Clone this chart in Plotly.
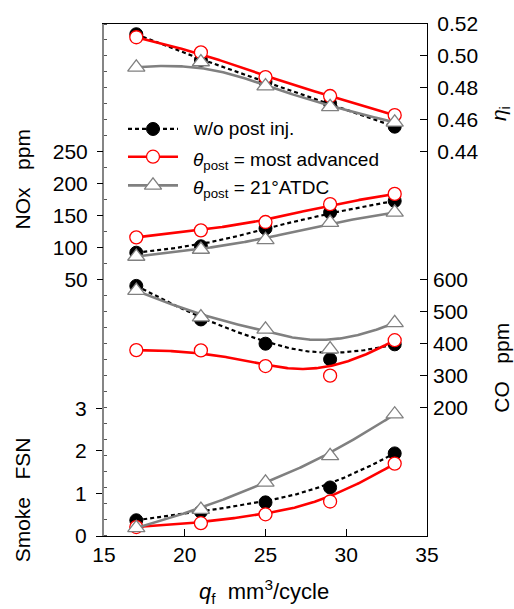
import numpy as np
import plotly.graph_objects as go

# Fuel injection quantity (mm^3/cycle)
q_f = [17, 21, 25, 29, 33]

# Indicated thermal efficiency
eta_wo = [0.5136, 0.4975, 0.4838, 0.4702, 0.4557]
eta_adv = [0.5117, 0.5022, 0.4867, 0.4749, 0.4629]
eta_21 = [0.4929, 0.4962, 0.4811, 0.4681, 0.4584]

# NOx (ppm)
nox_wo = [92, 102, 130, 155, 173]
nox_adv = [116, 127, 140, 168, 184]
nox_21 = [86, 97, 112, 139, 155]

# CO (ppm)
co_wo = [580, 475, 399, 350, 397]
co_adv = [379, 378, 329, 299, 410]
co_21 = [565, 482, 444, 382, 464]

# Smoke (FSN)
fsn_wo = [0.37, 0.57, 0.79, 1.14, 1.94]
fsn_adv = [0.21, 0.30, 0.51, 0.81, 1.70]
fsn_21 = [0.19, 0.62, 1.26, 1.88, 2.86]

x_ticks = [15, 20, 25, 30, 35]
eta_ticks = [0.44, 0.46, 0.48, 0.50, 0.52]
nox_ticks = [50, 100, 150, 200, 250]
co_ticks = [200, 300, 400, 500, 600]
fsn_ticks = [0, 1, 2, 3]

FONT = "Liberation Sans, Arial, sans-serif"
W, H = 514, 609
L, R, T, B = 104, 87, 19, 73


def bspline(xs, ys, n=240, k=3):
    """Clamped cubic B-spline using the data points as control points."""
    P = np.column_stack([xs, ys]).astype(float)
    m = len(P)
    knots = np.concatenate([np.zeros(k), np.linspace(0, 1, m - k + 1), np.ones(k)])
    t = np.linspace(0, 1, n)

    def basis(i, p):
        if p == 0:
            res = ((knots[i] <= t) & (t < knots[i + 1])).astype(float)
            if knots[i + 1] == 1.0 and knots[i] < 1.0:
                res[t == 1.0] = 1.0
            return res
        out = np.zeros_like(t)
        d1 = knots[i + p] - knots[i]
        if d1 > 0:
            out += (t - knots[i]) / d1 * basis(i, p - 1)
        d2 = knots[i + p + 1] - knots[i + 1]
        if d2 > 0:
            out += (knots[i + p + 1] - t) / d2 * basis(i + 1, p - 1)
        return out

    C = sum(basis(i, k)[:, None] * P[i] for i in range(m))
    return C[:, 0], C[:, 1]


series = [
    dict(name="w/o post inj.",
         line=dict(color="black", width=2.2, dash="4px,3px"),
         marker=dict(symbol="circle", size=13, color="black",
                     line=dict(color="black", width=1)),
         data=[(eta_wo, "y3"), (nox_wo, "y2"), (co_wo, "y4"), (fsn_wo, "y")]),
    dict(name="<i>θ</i><sub>post</sub> = most advanced",
         line=dict(color="#ff0000", width=2.6),
         marker=dict(symbol="circle", size=13, color="white",
                     line=dict(color="#ff0000", width=1.3)),
         data=[(eta_adv, "y3"), (nox_adv, "y2"), (co_adv, "y4"), (fsn_adv, "y")]),
    dict(name="<i>θ</i><sub>post</sub> = 21°ATDC",
         line=dict(color="#808080", width=2.6),
         marker=dict(symbol="triangle-up", size=15, color="white",
                     line=dict(color="#808080", width=1.3)),
         data=[(eta_21, "y3"), (nox_21, "y2"), (co_21, "y4"), (fsn_21, "y")]),
]

fig = go.Figure()
for s in series:
    for vals, ax in s["data"]:
        bx, by = bspline(q_f, vals)
        fig.add_trace(go.Scatter(x=bx, y=by, yaxis=ax, mode="lines",
                                 line=s["line"], showlegend=False,
                                 hoverinfo="skip"))
        fig.add_trace(go.Scatter(x=q_f, y=vals, yaxis=ax, mode="markers",
                                 marker=s["marker"], showlegend=False,
                                 name=s["name"]))

# Legend box drawn on a hidden pixel-unit axis pair (x2 / y5)
leg_x0, leg_x1, leg_text_x = 128, 178, 191
leg_rows = [125, 153, 182]
for s, ry in zip(series, leg_rows):
    fig.add_trace(go.Scatter(x=[leg_x0, leg_x1], y=[ry, ry], xaxis="x2", yaxis="y5",
                             mode="lines", line=s["line"], showlegend=False,
                             hoverinfo="skip"))
    fig.add_trace(go.Scatter(x=[(leg_x0 + leg_x1) / 2], y=[ry], xaxis="x2", yaxis="y5",
                             mode="markers", marker=s["marker"], showlegend=False,
                             hoverinfo="skip"))
    has_sub = "<sub>" in s["name"]
    fig.add_annotation(text=s["name"], x=leg_text_x, y=ry + (4 if has_sub else 0),
                       xref="x2", yref="y5", xanchor="left", yanchor="middle",
                       showarrow=False, font=dict(family=FONT, size=19, color="black"))

tick_font = dict(family=FONT, size=21, color="black")

fig.update_layout(
    width=W, height=H,
    margin=dict(l=L, r=R, t=T, b=B),
    paper_bgcolor="white", plot_bgcolor="white",
    font=dict(family=FONT, size=21, color="black"),
    showlegend=False,
    xaxis=dict(range=[15, 35], tickvals=x_ticks, ticks="inside", ticklen=7,
               tickwidth=1.2, tickcolor="black", showline=True, linecolor="black",
               linewidth=1.3, mirror=True, showgrid=False, zeroline=False,
               tickfont=tick_font),
    xaxis2=dict(range=[L, W - R], overlaying="x", visible=False, fixedrange=True),
    yaxis5=dict(range=[H - B, T], overlaying="y", visible=False, fixedrange=True,
                anchor="x2"),
    yaxis=dict(range=[0, 517 / 43], tickvals=fsn_ticks, ticks="outside",
               ticklen=6, tickwidth=1.2, tickcolor="black", showline=True,
               linecolor="#858585", linewidth=2, showgrid=False, zeroline=False,
               tickfont=tick_font, ticklabelstandoff=5),
    yaxis2=dict(range=[50 - 259 / 0.645, 250 + 129 / 0.645], overlaying="y",
                side="left", anchor="x", tickvals=nox_ticks, ticks="outside",
                ticklen=6, tickwidth=1.2, tickcolor="black", showline=False,
                showgrid=False, zeroline=False, tickfont=tick_font,
                ticklabelstandoff=5,
                minor=dict(tickmode="array",
                           tickvals=[v for v in range(-350, 451, 25) if v not in nox_ticks],
                           ticks="inside", ticklen=3, tickwidth=1,
                           tickcolor="#555555", showgrid=False)),
    yaxis3=dict(range=[0.52 - 517 / 1612.5, 0.52], overlaying="y", side="right",
                anchor="x", tickvals=eta_ticks, tickformat=".2f", ticks="inside",
                ticklen=7, tickwidth=1.2, tickcolor="black", showline=True,
                linecolor="black", linewidth=1.3, showgrid=False, zeroline=False,
                tickfont=tick_font, ticklabelstandoff=5),
    yaxis4=dict(range=[200 - 130 / 0.3225, 600 + 258 / 0.3225], overlaying="y",
                side="right", anchor="x", tickvals=co_ticks, ticks="inside",
                ticklen=7, tickwidth=1.2, tickcolor="black", showline=False,
                showgrid=False, zeroline=False, tickfont=tick_font,
                ticklabelstandoff=5),
)

nb = "\u00a0"
titles = [
    dict(text=f"NOx{nb*3}ppm", x=22, y=176, textangle=-90, size=21),
    dict(text=f"Smoke{nb*3}FSN", x=22, y=500, textangle=-90, size=21),
    dict(text="<i>η</i><sub>i</sub>", x=500, y=110, textangle=-90, size=21),
    dict(text=f"CO{nb*3}ppm", x=502, y=366, textangle=-90, size=21),
    dict(text=f"<i>q</i><sub>f</sub>{nb*2}mm<sup>3</sup>/cycle", x=264, y=592,
         textangle=0, size=22),
]
for a in titles:
    fig.add_annotation(text=a["text"], textangle=a["textangle"],
                       x=(a["x"] - L) / (W - L - R), y=1 - (a["y"] - T) / (H - T - B),
                       xref="paper", yref="paper", xanchor="center",
                       yanchor="middle", showarrow=False,
                       font=dict(family=FONT, size=a["size"], color="black"))

fig.write_html("out.html")
